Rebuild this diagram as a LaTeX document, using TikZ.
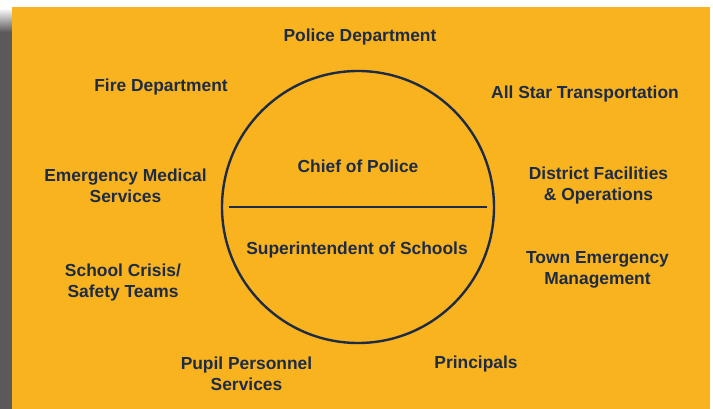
\documentclass[tikz,border=0pt]{standalone}
\usepackage{fontspec}
\setmainfont{Liberation Sans}
\definecolor{gold}{HTML}{F8B31F}
\definecolor{navy}{HTML}{1E2B44}
\definecolor{edgegray}{HTML}{5B5959}
\tikzset{
    partner/.style={text=navy,font=\fontsize{17.4}{21}\selectfont\bfseries,align=center,inner sep=0pt},
    ring/.style={draw=navy,line width=2.4pt,circle,minimum size=272pt,inner sep=0pt}
}
\begin{document}
\begin{tikzpicture}[x=1pt,y=-1pt]
    \useasboundingbox (0,0) rectangle (713,409);
    \fill[white] (0,0) rectangle (713,409);
    % shadow on the left
    \shade[top color=white,bottom color=edgegray] (0,8) rectangle (12,32);
    \fill[edgegray] (0,32) rectangle (12,409);
    \fill[gold] (12,7) rectangle (710,409);
    % centre circle
    \node[ring] (core) at (358,207) {};
    \draw[navy,line width=2pt] (core.center) ++(-129,0) -- ++(258,0);
    \node[partner] (chief) at (358,166) {Chief of Police};
    \node[partner] (super) at (357,250) {Superintendent of Schools};
    % partners round it
    \node[partner] (police) at (360,37) {Police Department};
    \node[partner] (fire) at (161,87) {Fire Department};
    \node[partner] (bus) at (585,94) {All Star Transportation};
    \node[partner] (ems) at (125.5,186) {Emergency Medical\\Services};
    \node[partner] (facilities) at (598.5,186) {District Facilities\\\& Operations};
    \node[partner] (town) at (597.5,270) {Town Emergency\\Management};
    \node[partner] (crisis) at (123,283) {School Crisis/\\Safety Teams};
    \node[partner] (pupil) at (246.5,373.5) {Pupil Personnel\\Services};
    \node[partner] (principals) at (476,364) {Principals};
\end{tikzpicture}
\end{document}
